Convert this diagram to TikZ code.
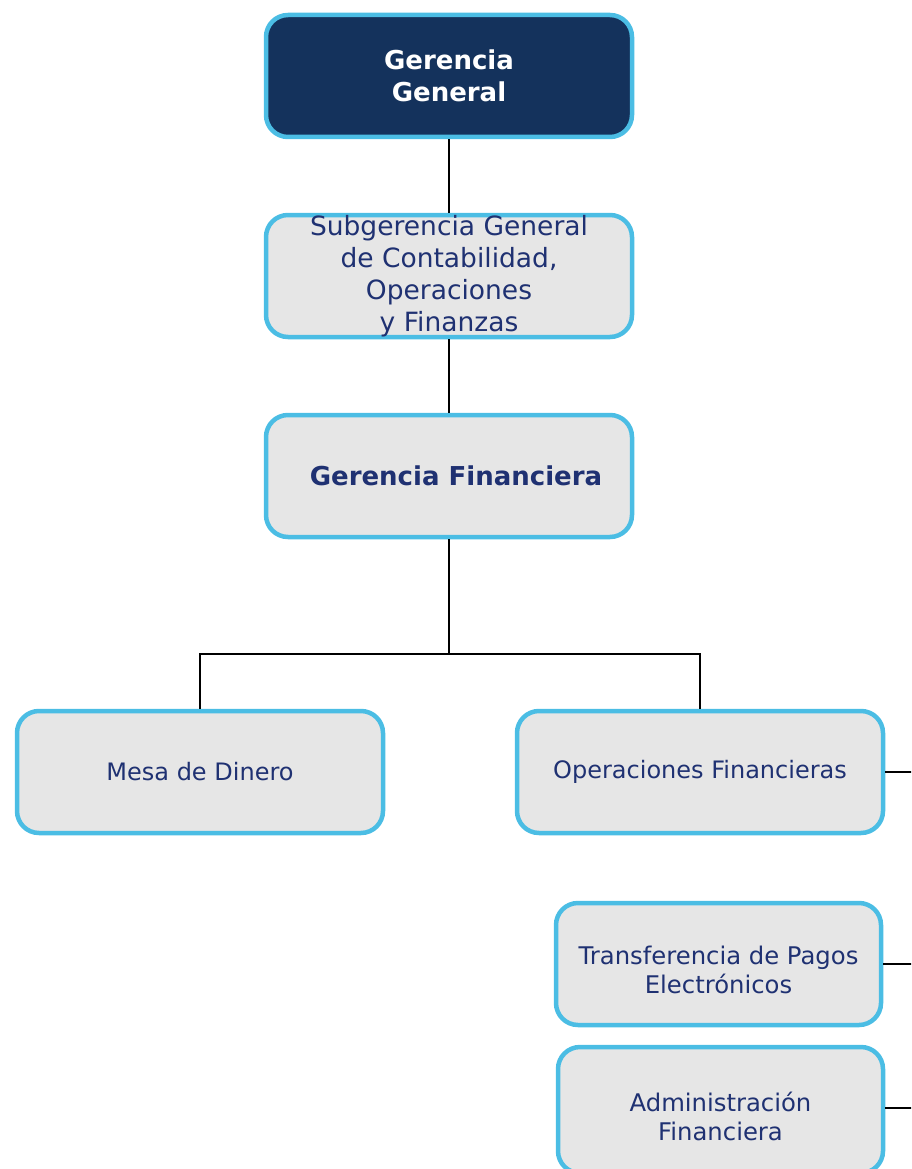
\documentclass[tikz,border=0pt]{standalone}
\usepackage{fontspec}
\setmainfont{DejaVu Sans}
\definecolor{navy}{HTML}{14325C}
\definecolor{sky}{HTML}{4BBDE4}
\definecolor{boxgray}{HTML}{E6E6E6}
\definecolor{txt}{HTML}{1F3172}
\begin{document}
\begin{tikzpicture}[x=1pt,y=-1pt,
  unit/.style={draw=sky,line width=4.5pt,rounded corners=22pt,fill=boxgray,
    minimum width=366pt,minimum height=122pt,align=center,text=txt,
    font=\fontsize{24}{29}\selectfont,inner sep=0pt},
  topunit/.style={unit,fill=navy,text=white,font=\fontsize{26}{32}\selectfont\bfseries},
  lowtext/.style={label={[text=txt,align=center,font=\fontsize{24.3}{29}\selectfont,yshift=-6pt]center:#1}},
  link/.style={draw=black,line width=1.2pt}]
\useasboundingbox (0,0) rectangle (911,1169);
\clip (0,0) rectangle (911,1169);
\node[topunit] (gg) at (449,76) {Gerencia\\General};
\node[unit,font=\fontsize{26.5}{32}\selectfont] (sg) at (449,276) {Subgerencia General\\de Contabilidad,\\Operaciones\\y Finanzas};
\node[unit,font=\fontsize{26}{30}\selectfont\bfseries] (gf) at (449,476) {\hspace*{14pt}Gerencia Financiera};
\node[unit] (md) at (200,772) {Mesa de Dinero};
\node[unit] (of) at (700,772) {Operaciones Financieras};
\node[unit,minimum width=325pt,lowtext={Transferencia de Pagos\\Electrónicos}] (tp) at (718.5,964) {};
\node[unit,minimum width=325pt,minimum height=126pt,lowtext={Administración\\Financiera},label distance=0pt] (af) at (720.5,1110) {};
\coordinate (j) at (449,654);
\coordinate (e1) at (912,772);
\coordinate (e2) at (912,964);
\coordinate (e3) at (912,1108);
\draw[link] (gg.south) -- (sg.north);
\draw[link] (sg.south) -- (gf.north);
\draw[link] (gf.south) -- (j);
\draw[link] (md.north) |- (j) -| (of.north);
\draw[link] (of.east) -- (e1);
\draw[link] (tp.east) -- (e2);
\draw[link] (af.east |- e3) -- (e3);
\end{tikzpicture}
\end{document}
